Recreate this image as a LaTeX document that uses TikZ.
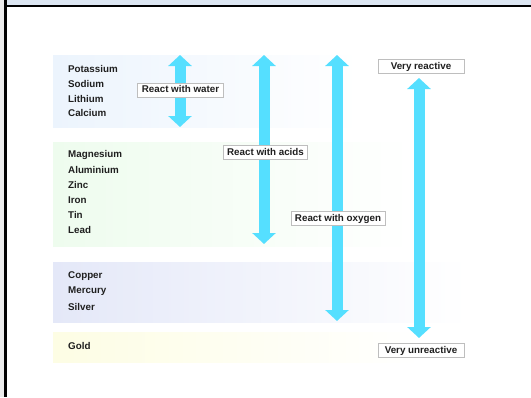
\documentclass[tikz,border=0pt]{standalone}
\usepackage{fontspec}
\setmainfont{Liberation Sans}
\usetikzlibrary{arrows.meta}
\definecolor{arrowcyan}{RGB}{85,223,255}
\definecolor{barblue}{RGB}{220,230,242}
\definecolor{boxgrey}{RGB}{190,190,190}
\definecolor{bandblue}{RGB}{236,244,253}
\definecolor{bandgreen}{RGB}{238,252,238}
\definecolor{bandlilac}{RGB}{228,232,248}
\definecolor{bandyellow}{RGB}{253,253,228}
\begin{document}
\begin{tikzpicture}[x=1pt,y=-1pt,
    metal/.style={anchor=west,inner sep=0pt,font=\fontsize{9.8}{11}\bfseries\selectfont,text=black!88},
    tag/.style={draw=boxgrey,line width=0.9pt,fill=white,inner xsep=4pt,inner ysep=0pt,
      minimum height=14pt,text height=7pt,text depth=2pt,font=\fontsize{9.8}{11}\bfseries\selectfont,text=black!88},
    scaletag/.style={tag,minimum width=86pt},
    band/.style={draw=none,shading=axis,shading angle=90},
    bigarrow/.style={draw=arrowcyan,line width=11pt,
      {Triangle[width=23pt,length=11pt]}-{Triangle[width=23pt,length=11pt]}}]
  \useasboundingbox (0,0) rectangle (531,397);
  % frame
  \fill[white] (0,0) rectangle (531,397);
  \fill[black!8] (0,0) rectangle (4,397);
  \fill[barblue] (7,0) rectangle (531,5);
  \draw[black,line width=2pt] (4,6) -- (531,6);
  \draw[black,line width=3pt] (5.5,0) -- (5.5,397);
  % bands
  \path[band,left color=bandblue,right color=white] (53,55) rectangle (360,127);
  \path[band,left color=bandgreen,right color=white] (53,142) rectangle (412,246);
  \path[band,left color=bandlilac,right color=white] (53,262) rectangle (468,322);
  \path[band,left color=bandyellow,right color=white] (53,332) rectangle (420,362);
  % metals
  \draw
    (68,69) node[metal] (potassium){Potassium}
    (68,83.5) node[metal] (sodium){Sodium}
    (68,98.5) node[metal] (lithium){Lithium}
    (68,113) node[metal] (calcium){Calcium}
    (68,155) node[metal] (magnesium){Magnesium}
    (68,170) node[metal] (aluminium){Aluminium}
    (68,185) node[metal] (zinc){Zinc}
    (68,200) node[metal] (iron){Iron}
    (68,215) node[metal] (tin){Tin}
    (68,230) node[metal] (lead){Lead}
    (68,276) node[metal] (copper){Copper}
    (68,291) node[metal] (mercury){Mercury}
    (68,307) node[metal] (silver){Silver}
    (68,346) node[metal] (gold){Gold};
  % arrow ends
  \coordinate (watertop) at (180,55);
  \coordinate (waterbot) at (180,127);
  \coordinate (acidtop) at (264,55);
  \coordinate (acidbot) at (264,244);
  \coordinate (oxytop) at (337,55);
  \coordinate (oxybot) at (337,321);
  \coordinate (scaletop) at (419,78);
  \coordinate (scalebot) at (419,338);
  \begin{scope}
    \draw[bigarrow] (watertop) to (waterbot);
    \draw[bigarrow] (acidtop) to (acidbot);
    \draw[bigarrow] (oxytop) to (oxybot);
    \draw[bigarrow] (scaletop) to (scalebot);
  \end{scope}
  % labels
  \draw
    (180.5,90) node[tag] (water){React with water}
    (265.5,152.5) node[tag] (acids){React with acids}
    (338,218.5) node[tag] (oxygen){React with oxygen}
    (421,66.5) node[scaletag] (reactive){Very reactive}
    (421,350.5) node[scaletag] (unreactive){Very unreactive};
\end{tikzpicture}
\end{document}
